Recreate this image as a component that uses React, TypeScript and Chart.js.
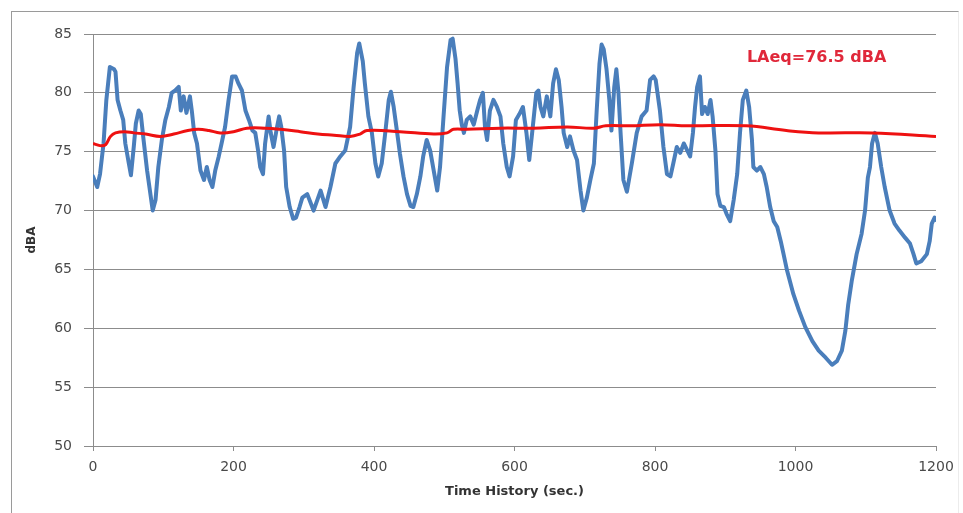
import React, { useEffect, useRef } from "react";
import { Chart, registerables } from "chart.js";

Chart.register(...registerables);

// ---- Data ----
const timeSec = [
  0, 6, 10, 15, 19, 24, 30, 32, 35, 39, 43, 46, 51, 54, 58, 61, 65, 68, 72, 77,
  81, 85, 89, 93, 98, 103, 108, 112, 117, 122, 125, 129, 133, 138, 141, 144, 148, 153, 158, 162,
  166, 170, 174, 179, 183, 188, 193, 198, 203, 207, 212, 217, 222, 227, 231, 235, 238, 242, 245, 250,
  253, 257, 262, 265, 268, 272, 275, 280, 285, 289, 294, 298, 305, 314, 324, 331, 338, 345, 352, 359,
  366, 371, 376, 379, 384, 387, 392, 397, 402, 406, 411, 416, 421, 424, 428, 433, 437, 442, 447, 452,
  456, 461, 466, 470, 475, 480, 485, 490, 494, 499, 504, 509, 512, 516, 519, 522, 525, 528, 532, 537,
  542, 547, 551, 555, 558, 561, 565, 570, 575, 580, 584, 589, 593, 598, 602, 607, 612, 617, 621, 626,
  631, 634, 637, 641, 646, 651, 655, 659, 663, 667, 670, 675, 679, 684, 689, 694, 698, 703, 708, 713,
  717, 721, 724, 727, 731, 735, 738, 742, 745, 748, 751, 755, 760, 767, 774, 781, 788, 793, 798, 801,
  807, 812, 817, 822, 826, 831, 836, 841, 846, 850, 854, 857, 860, 864, 867, 871, 875, 879, 882, 886,
  889, 893, 898, 902, 907, 912, 917, 921, 925, 930, 934, 938, 940, 945, 950, 955, 959, 964, 969, 974,
  979, 983, 988, 997, 1005, 1014, 1024, 1033, 1043, 1052, 1059, 1066, 1071, 1075, 1080, 1087, 1094, 1099, 1103, 1106,
  1109, 1113, 1117, 1122, 1127, 1134, 1141, 1148, 1156, 1163, 1168, 1172, 1179, 1187, 1191, 1194, 1198, 1200,
];

const soundLevel = [
  72.9, 72.0, 73.1, 75.7, 79.4, 82.2, 82.0, 81.8, 79.4, 78.5, 77.7, 75.7, 74.0, 73.0, 75.4, 77.4, 78.5, 78.2, 76.0, 73.4,
  71.7, 70.0, 70.9, 73.7, 76.0, 77.7, 78.8, 80.0, 80.2, 80.5, 78.5, 79.7, 78.3, 79.7, 78.3, 76.6, 75.7, 73.4, 72.6, 73.7,
  72.6, 72.0, 73.4, 74.6, 75.7, 77.1, 79.4, 81.4, 81.4, 80.8, 80.2, 78.5, 77.7, 76.8, 76.6, 75.1, 73.7, 73.1, 75.7, 78.0,
  76.6, 75.4, 77.1, 78.0, 77.1, 75.1, 72.0, 70.3, 69.3, 69.4, 70.3, 71.1, 71.4, 70.0, 71.7, 70.3, 72.0, 74.0, 74.6, 75.1,
  77.1, 80.5, 83.4, 84.2, 82.7, 80.8, 78.0, 76.6, 74.0, 72.9, 74.0, 76.6, 79.4, 80.1, 78.8, 76.6, 74.8, 72.9, 71.4, 70.4,
  70.3, 71.4, 72.9, 74.6, 76.0, 75.1, 73.4, 71.7, 73.7, 78.0, 82.2, 84.5, 84.6, 82.9, 80.8, 78.5, 77.3, 76.6, 77.7, 78.0,
  77.3, 78.5, 79.4, 80.0, 77.1, 76.0, 78.5, 79.4, 78.8, 78.0, 75.7, 73.7, 72.9, 74.6, 77.7, 78.2, 78.8, 76.6, 74.3, 77.1,
  80.0, 80.2, 78.8, 78.0, 79.7, 78.0, 80.8, 82.0, 81.1, 78.8, 76.6, 75.4, 76.3, 75.1, 74.3, 71.7, 70.0, 71.1, 72.6, 74.0,
  78.5, 82.5, 84.1, 83.7, 82.0, 79.4, 76.8, 80.5, 82.0, 80.0, 76.6, 72.6, 71.6, 74.0, 76.6, 78.0, 78.5, 81.1, 81.4, 81.1,
  78.5, 75.4, 73.1, 72.9, 74.0, 75.4, 74.9, 75.7, 75.1, 74.6, 76.6, 78.8, 80.5, 81.4, 78.2, 78.8, 78.2, 79.4, 78.0, 75.1,
  71.4, 70.4, 70.3, 69.7, 69.1, 70.9, 73.1, 76.6, 79.4, 80.2, 78.8, 76.0, 73.7, 73.4, 73.7, 73.1, 72.0, 70.3, 69.1, 68.6,
  67.4, 66.3, 64.9, 62.9, 61.5, 60.1, 58.9, 58.1, 57.5, 56.9, 57.2, 58.1, 59.8, 62.0, 64.0, 66.3, 68.0, 70.0, 72.8, 73.7,
  75.7, 76.6, 75.7, 73.7, 72.0, 70.0, 68.9, 68.3, 67.7, 67.2, 66.3, 65.5, 65.7, 66.3, 67.4, 68.9, 69.4, 69.2,
];

const laeqTime = [
  0, 5, 12, 18, 25, 32, 45, 58, 75, 96, 115, 135, 150, 165, 181, 200, 219, 245, 267, 295,
  320, 343, 366, 380, 390, 437, 485, 504, 513, 532, 580, 627, 675, 713, 730, 765, 807, 846, 930, 987,
  1033, 1109, 1200,
];

const laeqLevel = [
  75.7, 75.6, 75.5, 75.6, 76.3, 76.6, 76.7, 76.6, 76.5, 76.3, 76.5, 76.8, 76.9, 76.8, 76.6, 76.7, 77.0, 77.0, 76.9, 76.7,
  76.5, 76.4, 76.3, 76.5, 76.8, 76.7, 76.5, 76.6, 76.9, 76.9, 77.0, 77.0, 77.1, 77.0, 77.2, 77.2, 77.3, 77.2, 77.2, 76.8,
  76.6, 76.6, 76.3,
];

const xMin = 0;
const xMax = 1200;
const xStep = 200;
const yMin = 50;
const yMax = 85;
const yStep = 5;

const xTitle = "Time History (sec.)";
const yTitle = "dBA";
const laeqLabel = "LAeq=76.5 dBA";
const laeqLabelAt = { x: 1030, y: 83.0 };

const FONT = "'DejaVu Sans', Verdana, sans-serif";

const labelPlugin = {
  id: "laeqLabel",
  afterDatasetsDraw(chart: any) {
    const { ctx, scales } = chart;
    const px = scales.x.getPixelForValue(laeqLabelAt.x);
    const py = scales.y.getPixelForValue(laeqLabelAt.y);
    ctx.save();
    ctx.font = `bold 16px ${FONT}`;
    ctx.fillStyle = "#e0283a";
    ctx.textAlign = "center";
    ctx.textBaseline = "middle";
    ctx.fillText(laeqLabel, px, py);
    ctx.restore();
  },
};

export default function App() {
  const canvasRef = useRef<HTMLCanvasElement | null>(null);

  useEffect(() => {
    if (!canvasRef.current) return;
    const blue = timeSec.map((t, i) => ({ x: t, y: soundLevel[i] }));
    const red = laeqTime.map((t, i) => ({ x: t, y: laeqLevel[i] }));
    const grid = "#8c8c8c";
    const tickColor = "#4a4a4a";

    const chart = new Chart(canvasRef.current, {
      type: "line",
      data: {
        datasets: [
          {
            label: "LAeq",
            data: red,
            borderColor: "#ee1111",
            borderWidth: 3,
            pointRadius: 0,
            tension: 0.4,
            fill: false,
            order: 0,
          },
          {
            label: "dBA",
            data: blue,
            borderColor: "#4a7ebb",
            borderWidth: 4,
            pointRadius: 0,
            tension: 0,
            borderJoinStyle: "round",
            borderCapStyle: "round",
            fill: false,
            order: 1,
          },
        ],
      },
      options: {
        responsive: false,
        animation: false,
        layout: { padding: { left: 0, right: 27, top: 34, bottom: 0 } },
        plugins: {
          legend: { display: false },
          tooltip: { enabled: false },
        },
        scales: {
          x: {
            type: "linear",
            min: xMin,
            max: xMax,
            afterFit: (s: any) => {
              s.height = 67;
            },
            ticks: {
              stepSize: xStep,
              color: tickColor,
              padding: 8,
              maxRotation: 0,
              font: { family: FONT, size: 14 },
              callback: (v: any) => String(v),
            },
            grid: {
              drawOnChartArea: false,
              drawTicks: true,
              tickLength: 5,
              color: grid,
            },
            border: { display: true, color: grid },
            title: {
              display: true,
              text: xTitle,
              color: "#333333",
              font: { family: FONT, size: 13, weight: "bold" },
              padding: { top: 0, bottom: 14 },
            },
          },
          y: {
            min: yMin,
            max: yMax,
            afterFit: (s: any) => {
              s.width = 93;
            },
            ticks: {
              stepSize: yStep,
              color: tickColor,
              padding: 12,
              font: { family: FONT, size: 14 },
              callback: (v: any) => String(v),
            },
            grid: {
              color: grid,
              tickLength: 9,
              drawTicks: true,
            },
            border: { display: true, color: grid },
            title: {
              display: true,
              text: yTitle,
              color: "#333333",
              font: { family: FONT, size: 12, weight: "bold" },
              padding: { top: 25, bottom: 0 },
            },
          },
        },
      },
      plugins: [labelPlugin],
    });

    return () => chart.destroy();
  }, []);

  return (
    <div
      style={{
        position: "fixed",
        left: 0,
        top: 0,
        width: 963,
        height: 513,
        background: "#ffffff",
        overflow: "hidden",
      }}
    >
      <div
        style={{
          position: "absolute",
          left: 11,
          top: 11,
          width: 946,
          height: 520,
          borderLeft: "1px solid #9a9a9a",
          borderTop: "1px solid #9a9a9a",
          borderRight: "1px solid #ececec",
        }}
      />
      <canvas
        ref={canvasRef}
        width={963}
        height={513}
        style={{ position: "absolute", left: 0, top: 0 }}
      />
    </div>
  );
}
